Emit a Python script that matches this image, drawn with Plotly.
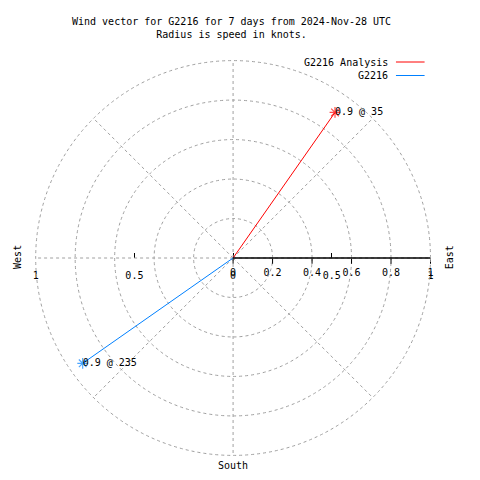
import plotly.graph_objects as go

# ---- data ----
series_names = ["G2216 Analysis", "G2216"]
speeds = [0.9, 0.93]          # knots
directions = [35, 235]        # degrees, compass
point_labels = ["0.9 @ 35", "0.9 @ 235"]
colors = ["#ff0000", "#0080ff"]
radial_ticks = [0, 0.2, 0.4, 0.6, 0.8, 1.0]
radial_ticktext = ["0", "0.2", "0.4", "0.6", "0.8", "1"]
x_ticks = [-1, -0.5, 0, 0.5, 1]
x_ticktext = ["1", "0.5", "0", "0.5", "1"]
title_lines = ["Wind vector for G2216 for 7 days from 2024-Nov-28 UTC",
               "Radius is speed in knots."]

FONT = "DejaVu Sans Mono"
OFF = 8                       # page body margin
W = H = 464
cx, cy, R = 233 - OFF, 258 - OFF, 200
RMAX2 = 1.02
R2 = R * RMAX2


def px(x):
    return x / W


def py(y):
    return 1 - y / H


GRID = dict(gridcolor="#a0a0a0", griddash="3px,3px", gridwidth=1)

fig = go.Figure()
# outer frame polar (only draws the r=1 dashed circle)
fig.add_trace(go.Scatterpolar(r=[0], theta=[0], mode="markers",
                              marker=dict(opacity=0), showlegend=False,
                              hoverinfo="skip", subplot="polar2"))
for name, s, d, c in zip(series_names, speeds, directions, colors):
    fig.add_trace(go.Scatterpolar(
        r=[0, s], theta=[d, d], mode="lines+markers",
        line=dict(color=c, width=1),
        marker=dict(symbol=["circle", "asterisk-open"], size=[0.1, 9],
                    color=c, line=dict(color=c, width=1.2)),
        name=name, showlegend=False, cliponaxis=False,
    ))
fig.add_trace(go.Scatterpolar(
    r=speeds, theta=directions, mode="text", text=point_labels,
    textposition="middle right", textfont=dict(family=FONT, size=10, color="black"),
    showlegend=False, cliponaxis=False, hoverinfo="skip"))

# hidden cartesian helper for horizontal x-axis ticks
fig.add_trace(go.Scatter(x=[-1, 1], y=[0, 0], mode="markers",
                         marker=dict(opacity=0), showlegend=False,
                         hoverinfo="skip", xaxis="x", yaxis="y"))

fig.update_layout(
    width=W, height=H, margin=dict(l=0, r=0, t=0, b=0),
    paper_bgcolor="white", plot_bgcolor="rgba(0,0,0,0)",
    font=dict(family=FONT, size=10, color="black"),
    polar2=dict(
        domain=dict(x=[px(cx - R2), px(cx + R2)],
                    y=[py(cy + R2), py(cy - R2)]),
        bgcolor="rgba(0,0,0,0)",
        angularaxis=dict(rotation=90, direction="clockwise", showticklabels=False,
                         ticks="", showline=False, showgrid=False),
        radialaxis=dict(range=[0, RMAX2], tickvals=[1.0], showticklabels=False,
                        ticks="", showline=False, showgrid=True, **GRID),
    ),
    polar=dict(
        domain=dict(x=[px(cx - R), px(cx + R)],
                    y=[py(cy + R), py(cy - R)]),
        bgcolor="rgba(0,0,0,0)",
        angularaxis=dict(rotation=90, direction="clockwise",
                         tickvals=list(range(0, 360, 45)), showticklabels=False,
                         ticks="", showline=False, showgrid=True, **GRID),
        radialaxis=dict(range=[0, 1], angle=0, tickangle=0,
                        tickvals=radial_ticks, ticktext=radial_ticktext,
                        showline=True, linecolor="black", linewidth=1.5,
                        ticks="outside", ticklen=5, tickcolor="black",
                        side="clockwise", showgrid=True, **GRID,
                        tickfont=dict(family=FONT, size=10)),
    ),
    xaxis=dict(domain=[px(cx - R), px(cx + R)], range=[-1, 1],
               anchor="free", position=py(cy), showgrid=False,
               zeroline=False, showline=False, tickvals=x_ticks,
               ticktext=x_ticktext, ticks="inside", ticklen=5,
               tickcolor="black", ticklabelstandoff=10,
               tickfont=dict(family=FONT, size=10)),
    yaxis=dict(domain=[0, 1], visible=False, range=[-1, 1]),
)

# title
fig.add_annotation(x=px(231 - OFF), y=py(28 - OFF), xref="paper", yref="paper",
                   text="<br>".join(title_lines), showarrow=False,
                   font=dict(family=FONT, size=10), align="center",
                   xanchor="center", yanchor="middle")

# compass labels
for txt, x, y, ang in [("West", 14, 257, -90), ("East", 452, 257, -90)]:
    fig.add_annotation(x=px(x - OFF), y=py(y - OFF), xref="paper", yref="paper",
                       text=txt, textangle=ang, showarrow=False,
                       xanchor="center", yanchor="middle",
                       font=dict(family=FONT, size=10))
fig.add_annotation(x=px(cx), y=0, xref="paper", yref="paper",
                   text="South", showarrow=False, xanchor="center",
                   yanchor="bottom", yshift=-1, font=dict(family=FONT, size=10))

# legend (gnuplot style: text then line sample)
for i, (name, c) in enumerate(zip(series_names, colors)):
    yy = py(62 + 13.5 * i - OFF)
    fig.add_annotation(x=px(392 - OFF), y=yy, xref="paper", yref="paper", text=name,
                       showarrow=False, xanchor="right", yanchor="middle",
                       font=dict(family=FONT, size=10))
    fig.add_shape(type="line", xref="paper", yref="paper",
                  x0=px(398 - OFF), x1=px(427 - OFF), y0=yy, y1=yy,
                  line=dict(color=c, width=1))

fig.write_html("out.html")
